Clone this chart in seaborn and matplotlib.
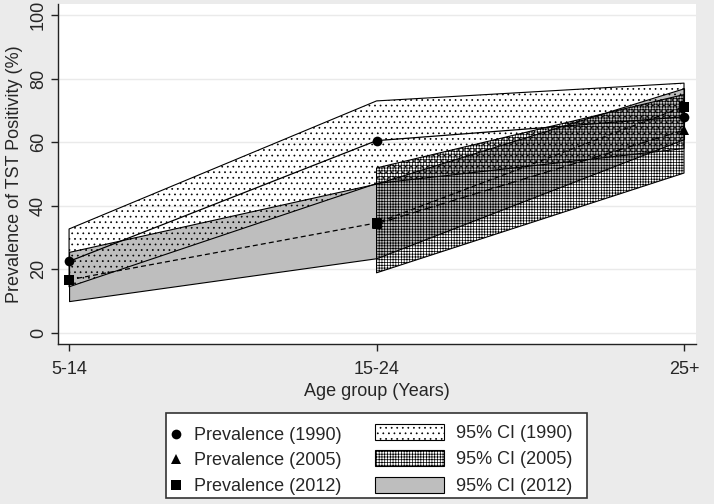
import numpy as np
import pandas as pd
import seaborn as sns
import matplotlib.pyplot as plt
from matplotlib.lines import Line2D
from matplotlib.patches import Patch, Rectangle

# age groups on the x axis
age_groups = ["5-14", "15-24", "25+"]

# prevalence of TST positivity (%) per survey year
prev_1990 = [22.5, 60.5, 68.0]
prev_2005 = [np.nan, 34.3, 63.8]
prev_2012 = [16.7, 34.6, 71.2]

# 95% confidence intervals
ci_1990_lo = [14.5, 47.0, 58.0]
ci_1990_hi = [32.7, 73.0, 78.6]
ci_2005_lo = [np.nan, 18.9, 50.3]
ci_2005_hi = [np.nan, 51.9, 75.0]
ci_2012_lo = [10.0, 23.5, 61.0]
ci_2012_hi = [25.5, 47.0, 77.0]

years = ["1990", "2005", "2012"]

sns.set_style("white")
plt.rcParams["font.family"] = ["Liberation Sans", "DejaVu Sans"]
plt.rcParams["hatch.linewidth"] = 0.5

bg = "#ebebeb"
fig = plt.figure(figsize=(7.14, 5.04), dpi=100, facecolor=bg)
ax = fig.add_axes([58 / 714, 1 - 344 / 504, (696 - 58) / 714, (344 - 4) / 504])
ax.set_facecolor("white")

x = np.arange(len(age_groups))

# long format table for the prevalence lines
df = pd.DataFrame({
    "x": np.tile(x, 3),
    "prev": prev_1990 + prev_2005 + prev_2012,
    "year": np.repeat(years, len(age_groups)),
}).dropna()

# CI bands: grey (2012) first, then dotted (1990) and grid (2005) on top
ax.fill_between(x, ci_2012_lo, ci_2012_hi, facecolor="#bebebe",
                edgecolor="black", linewidth=0.8, zorder=2)
ax.fill_between(x, ci_1990_lo, ci_1990_hi, facecolor="none", hatch="...",
                edgecolor="black", linewidth=0.8, zorder=3)
ax.fill_between(x, ci_2005_lo, ci_2005_hi, facecolor="none", hatch="++++++",
                edgecolor="black", linewidth=0.8, zorder=4)

sns.lineplot(data=df, x="x", y="prev", style="year", color="black",
             markers={"1990": "o", "2005": "^", "2012": "s"},
             dashes={"1990": "", "2005": (7, 3), "2012": (4, 2.5)},
             markersize=7, markeredgewidth=0, linewidth=0.9,
             legend=False, ax=ax, zorder=5)

ax.set_xlim(-0.036, 2.039)
ax.set_ylim(-3.5, 103.5)
ax.set_xticks(x)
ax.set_xticklabels(age_groups)
ax.set_yticks(range(0, 101, 20))
ax.yaxis.grid(True, color="#eaeaea", linewidth=1)
ax.set_axisbelow(True)

for s in ["top", "right"]:
    ax.spines[s].set_visible(False)
for s in ["left", "bottom"]:
    ax.spines[s].set_color("#222222")
    ax.spines[s].set_linewidth(1)

ax.tick_params(axis="both", labelsize=13, length=5, width=1,
               color="#222222", pad=3, direction="out",
               bottom=True, left=True)
ax.tick_params(axis="x", pad=7)
ax.tick_params(axis="y", labelrotation=90)
for lab in ax.get_yticklabels():
    lab.set_va("center")

ax.set_xlabel("Age group (Years)", fontsize=13, labelpad=4)
ax.set_ylabel("Prevalence of TST Positivity (%)", fontsize=13, labelpad=5)

# legend: box with markers on the left, patches on the right
box = Rectangle((166 / 714, 1 - 498 / 504), (587 - 166) / 714, (498 - 413) / 504,
                transform=fig.transFigure, facecolor="white",
                edgecolor="#333333", linewidth=1.2, zorder=1)
fig.patches.append(box)

mk_handles = [Line2D([], [], color="black", marker=m, linestyle="none",
                     markersize=7, markeredgewidth=0)
              for m in ["o", "^", "s"]]
mk_labels = ["Prevalence (" + y + ")" for y in years]
leg1 = fig.legend(mk_handles, mk_labels, loc="upper left",
                  bbox_to_anchor=(167 / 714, 1 - 427 / 504), frameon=False,
                  fontsize=13, handlelength=1.0, handletextpad=0.5,
                  labelspacing=0.47, borderpad=0, borderaxespad=0)

ci_handles = [
    Patch(facecolor="white", edgecolor="black", hatch="...", linewidth=0.8),
    Patch(facecolor="white", edgecolor="black", hatch="++++++", linewidth=0.8),
    Patch(facecolor="#bebebe", edgecolor="black", linewidth=0.8),
]
ci_labels = ["95% CI (" + y + ")" for y in years]
leg2 = fig.legend(ci_handles, ci_labels, loc="upper left",
                  bbox_to_anchor=(375 / 714, 1 - 424 / 504), frameon=False,
                  fontsize=13, handlelength=3.8, handleheight=0.95,
                  handletextpad=0.7, labelspacing=0.47, borderpad=0,
                  borderaxespad=0)

fig.savefig("out.png", dpi=100, facecolor=bg)
